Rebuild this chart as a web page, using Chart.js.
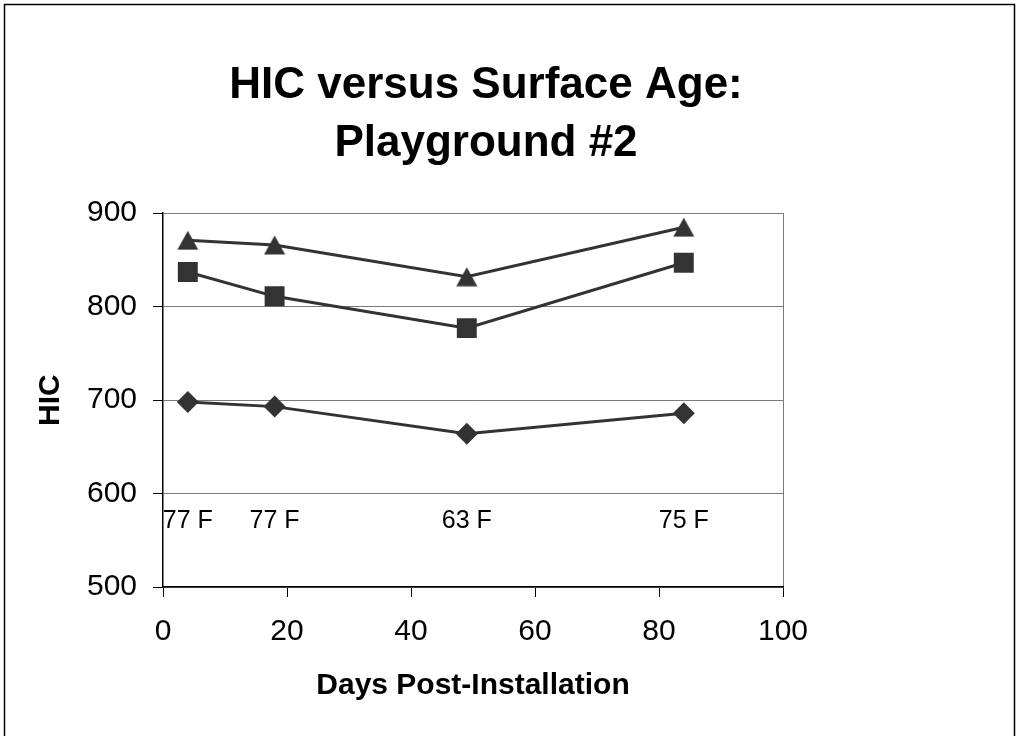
<!DOCTYPE html>
<html>
<head>
<meta charset="utf-8">
<title>HIC versus Surface Age: Playground #2</title>
<script src="https://cdn.jsdelivr.net/npm/chart.js@4"></script>
<style>
    html, body { margin: 0; padding: 0; background: #ffffff; overflow: hidden; }
    #wrap { position: relative; width: 1019px; height: 736px; }
</style>
</head>
<body>
<div id="wrap"><canvas id="graphHIC"></canvas></div>
<script>
//DATA
var days = [4, 18, 49, 84];
var hicTriangle = [871, 866, 832, 885];
var hicSquare = [837, 811, 777, 847];
var hicDiamond = [698, 693, 664, 686];
var tempLabels = ["77 F", "77 F", "63 F", "75 F"];
var tempLabelLevel = 570;   // HIC height where the temperature notes sit

var xTicks = [0, 20, 40, 60, 80, 100];
var yTicks = [500, 600, 700, 800, 900];

var fontFamily = '"Liberation Sans", Arial, sans-serif';
var markColor = "#333333";
var gridColor = "#7a7a7a";

window.onload = function(){
    start();
};

function start() {
    var ctx = document.getElementById('graphHIC').getContext('2d');
    window.graphHIC = new Chart(ctx, buildConfig());
}

// excel style triangle, centered on its box
function triangleMarker() {
    var c = document.createElement('canvas');
    c.width = 22;
    c.height = 20;
    var g = c.getContext('2d');
    g.fillStyle = markColor;
    g.beginPath();
    g.moveTo(11, 0.5);
    g.lineTo(21.5, 19.5);
    g.lineTo(0.5, 19.5);
    g.closePath();
    g.fill();
    return c;
}

function toPoints(values) {
    var pts = [];
    for (var i = 0; i < days.length; i++) {
        pts.push({x: days[i], y: values[i]});
    }
    return pts;
}

function lineSet(name, values, style, radius) {
    return {
        label: name,
        data: toPoints(values),
        borderColor: markColor,
        backgroundColor: markColor,
        borderWidth: 3,
        pointStyle: style,
        pointRadius: radius,
        pointHoverRadius: radius,
        pointBorderWidth: 0,
        pointBackgroundColor: markColor,
        tension: 0
    };
}

var tempNotes = {
    id: 'tempNotes',
    afterDatasetsDraw: function(chart) {
        var c = chart.ctx;
        var xs = chart.scales.x;
        var ys = chart.scales.y;
        c.save();
        c.font = '25px ' + fontFamily;
        c.fillStyle = '#000000';
        c.textAlign = 'center';
        c.textBaseline = 'middle';
        for (var i = 0; i < tempLabels.length; i++) {
            c.fillText(tempLabels[i], xs.getPixelForValue(days[i]), ys.getPixelForValue(tempLabelLevel));
        }
        c.restore();
    }
};

var frame = {
    id: 'frame',
    beforeDraw: function(chart) {
        var c = chart.ctx;
        c.save();
        c.fillStyle = '#ffffff';
        c.fillRect(0, 0, chart.width, chart.height);
        c.strokeStyle = '#000000';
        c.lineWidth = 1.5;
        c.strokeRect(4.5, 4.5, 1010, 740);
        c.restore();
    }
};

function buildConfig() {
    return {
        type: 'line',
        data: {
            datasets: [
                lineSet('Series 3', hicTriangle, triangleMarker(), 11),
                lineSet('Series 2', hicSquare, 'rect', 14.1),
                lineSet('Series 1', hicDiamond, 'rectRot', 11)
            ]
        },
        options: {
            responsive: true,
            maintainAspectRatio: false,
            animation: false,
            events: [],
            layout: { padding: {left: 0, right: 47, top: 0, bottom: 0} },
            plugins: {
                legend: { display: false },
                tooltip: { enabled: false },
                title: {
                    display: true,
                    text: ["HIC versus Surface Age:", "Playground #2"],
                    color: '#000000',
                    font: { family: fontFamily, size: 44, weight: 'bold', lineHeight: 1.32 },
                    padding: { top: 57, bottom: 40 }
                }
            },
            scales: {
                x: {
                    type: 'linear',
                    min: xTicks[0],
                    max: xTicks[xTicks.length - 1],
                    afterBuildTicks: function(scale) {
                        scale.ticks = xTicks.map(function(v) { return {value: v}; });
                    },
                    afterFit: function(scale) { scale.height = 149; },
                    ticks: {
                        color: '#000000',
                        padding: 17,
                        maxRotation: 0,
                        font: { family: fontFamily, size: 30 }
                    },
                    grid: {
                        color: function(c) { return c.tick && c.tick.value === 100 ? gridColor : 'rgba(0,0,0,0)'; },
                        tickColor: '#000000',
                        tickLength: 10,
                        lineWidth: 1
                    },
                    border: { color: '#000000', width: 1.5 },
                    title: {
                        display: true,
                        text: 'Days Post-Installation',
                        color: '#000000',
                        font: { family: fontFamily, size: 30, weight: 'bold' },
                        padding: { top: 0, bottom: 32 }
                    }
                },
                y: {
                    type: 'linear',
                    min: yTicks[0],
                    max: yTicks[yTicks.length - 1],
                    afterBuildTicks: function(scale) {
                        scale.ticks = yTicks.map(function(v) { return {value: v}; });
                    },
                    afterFit: function(scale) { scale.width = 163; },
                    ticks: {
                        color: '#000000',
                        padding: 16,
                        font: { family: fontFamily, size: 30 }
                    },
                    grid: {
                        color: gridColor,
                        tickColor: '#000000',
                        tickLength: 10,
                        lineWidth: 1
                    },
                    border: { color: '#000000', width: 1.5 },
                    title: {
                        display: true,
                        text: 'HIC',
                        color: '#000000',
                        font: { family: fontFamily, size: 30, weight: 'bold' },
                        padding: { top: 33, bottom: 0 }
                    }
                },
                // empty right side space, keeps plot at the same place as the original
                spacer: {
                    type: 'linear',
                    position: 'right',
                    min: yTicks[0],
                    max: yTicks[yTicks.length - 1],
                    afterFit: function(scale) { scale.width = 189; },
                    ticks: { display: false },
                    grid: { display: false },
                    border: { display: false },
                    title: { display: false }
                }
            }
        },
        plugins: [frame, tempNotes]
    };
}
</script>
</body>
</html>
